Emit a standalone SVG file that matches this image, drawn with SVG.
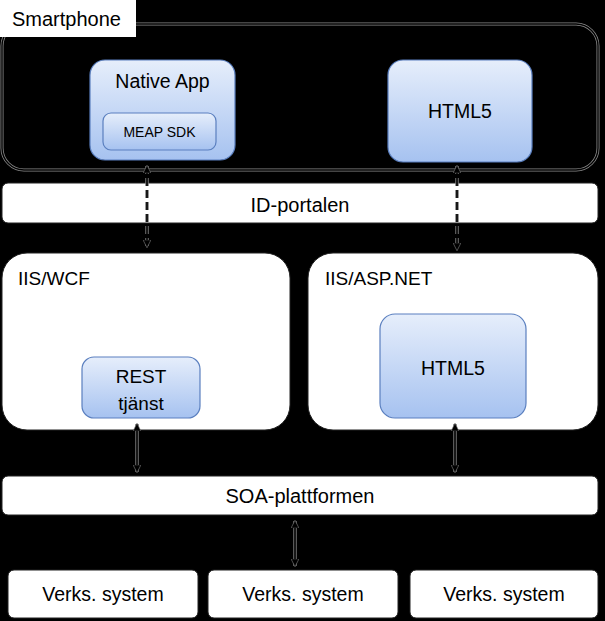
<svg xmlns="http://www.w3.org/2000/svg" width="605" height="621" viewBox="0 0 605 621">
<defs>
<linearGradient id="blue" x1="0" y1="0" x2="0" y2="1">
<stop offset="0" stop-color="#e6eefb"/>
<stop offset="1" stop-color="#a6c2f0"/>
</linearGradient>
<marker id="ah" viewBox="0 0 10 10" refX="9" refY="5" markerWidth="5" markerHeight="5" orient="auto-start-reverse" markerUnits="strokeWidth">
<path d="M0,0 L10,5 L0,10 z" fill="#000" stroke="#777" stroke-width="0.8"/>
</marker>
</defs>
<style>
text{font-family:"Liberation Sans",Arial,sans-serif;fill:#000}
.w{fill:#fff;stroke:#222;stroke-width:1}
.b{fill:url(#blue);stroke:#5a7fbf;stroke-width:1.2}
.under{fill:none;stroke:#777;stroke-width:3.5}
.over{fill:none;stroke:#000;stroke-width:1.6}
.dash{stroke-dasharray:8 4}
</style>
<rect x="0" y="0" width="605" height="621" fill="#000"/>
<g id="smartphone">
<rect x="2" y="24" width="596" height="146" rx="22" fill="#000" stroke="#8a8a8a" stroke-width="3"/>
<rect x="2" y="24" width="596" height="146" rx="22" fill="none" stroke="#000" stroke-width="1.4"/>
<rect x="0" y="0" width="136" height="37" fill="#fff"/>
<text x="12" y="26" font-size="20">Smartphone</text>
</g>
<g id="native-app">
<rect class="b" x="90" y="60" width="145" height="100" rx="15"/>
<text x="162.5" y="88" font-size="19.5" text-anchor="middle">Native App</text>
</g>
<g id="meap-sdk">
<rect class="b" x="103" y="113" width="113" height="37" rx="8" stroke="#333"/>
<text x="159.5" y="137" font-size="14" text-anchor="middle">MEAP SDK</text>
</g>
<g id="html5-phone">
<rect class="b" x="388" y="60" width="144" height="102" rx="15"/>
<text x="460" y="118" font-size="19.5" text-anchor="middle">HTML5</text>
</g>
<g id="id-portalen">
<rect class="w" x="2" y="183" width="596" height="40" rx="6"/>
<text x="300" y="212" font-size="20" text-anchor="middle">ID-portalen</text>
</g>
<g id="iis-wcf">
<rect class="w" x="2" y="253" width="288" height="177" rx="25"/>
<text x="18" y="285" font-size="19">IIS/WCF</text>
</g>
<g id="rest-tjanst">
<rect class="b" x="82" y="357" width="118" height="61" rx="12" stroke="#333"/>
<text x="141" y="383" font-size="19" text-anchor="middle">REST</text>
<text x="141" y="410" font-size="19" text-anchor="middle">tjänst</text>
</g>
<g id="iis-aspnet">
<rect class="w" x="308" y="253" width="290" height="177" rx="25"/>
<text x="325" y="285" font-size="19">IIS/ASP.NET</text>
</g>
<g id="html5-server">
<rect class="b" x="380" y="314" width="146" height="104" rx="15" stroke="#333"/>
<text x="453" y="375" font-size="19.5" text-anchor="middle">HTML5</text>
</g>
<g id="soa">
<rect class="w" x="2" y="476" width="596" height="39" rx="6"/>
<text x="300" y="503" font-size="20" text-anchor="middle">SOA-plattformen</text>
</g>
<g id="verks-1">
<rect class="w" x="8" y="570" width="190" height="48" rx="6"/>
<text x="103" y="601" font-size="19.5" text-anchor="middle">Verks. system</text>
</g>
<g id="verks-2">
<rect class="w" x="208" y="570" width="190" height="48" rx="6"/>
<text x="303" y="601" font-size="19.5" text-anchor="middle">Verks. system</text>
</g>
<g id="verks-3">
<rect class="w" x="410" y="570" width="188" height="48" rx="6"/>
<text x="504" y="601" font-size="19.5" text-anchor="middle">Verks. system</text>
</g>
<g id="connectors">
<path class="under dash" d="M147,166 V247"/>
<path class="over dash" d="M147,166 V247" marker-start="url(#ah)" marker-end="url(#ah)"/>
<path class="under dash" d="M457,166 V250"/>
<path class="over dash" d="M457,166 V250" marker-start="url(#ah)" marker-end="url(#ah)"/>
<path class="under" d="M137,424 V472"/>
<path class="over" d="M137,424 V472" marker-start="url(#ah)" marker-end="url(#ah)"/>
<path class="under" d="M455,424 V472"/>
<path class="over" d="M455,424 V472" marker-start="url(#ah)" marker-end="url(#ah)"/>
<path class="under" d="M295,521 V566"/>
<path class="over" d="M295,521 V566" marker-start="url(#ah)" marker-end="url(#ah)"/>
</g>
</svg>
